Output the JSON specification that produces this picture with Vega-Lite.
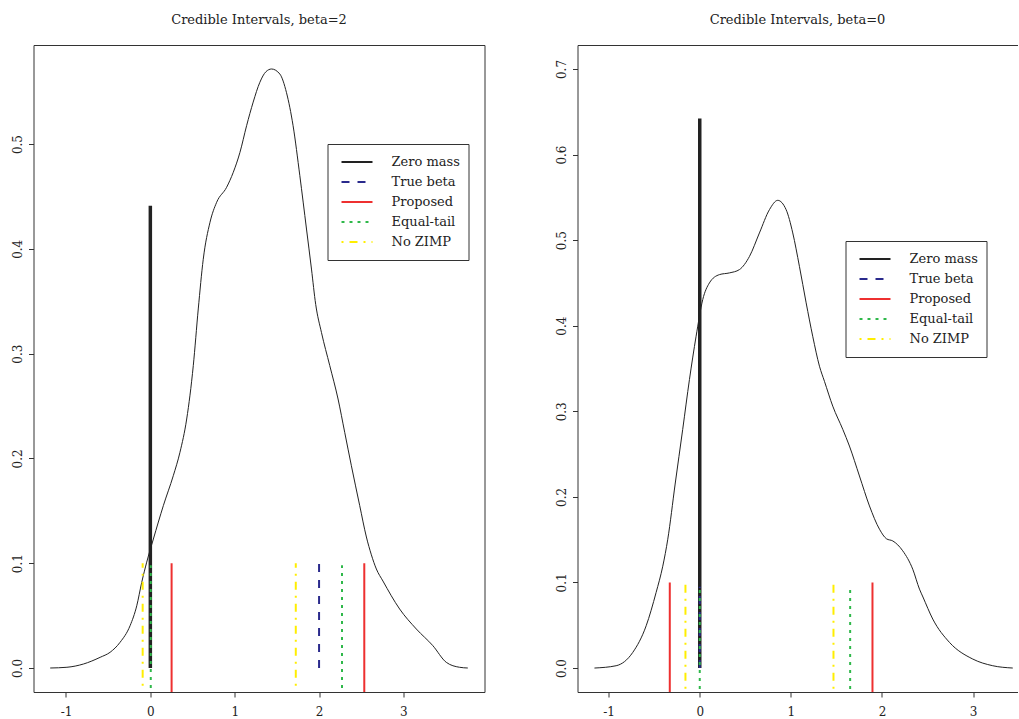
{
  "$schema": "https://vega.github.io/schema/vega-lite/v6.json",
  "padding": {"left": 10.5, "top": 13, "right": 0, "bottom": 0},
  "background": "white",
  "spacing": 93,
  "bounds": "flush",
  "datasets": {
    "dens1": [
      {"x": -1.187, "y": 0}, {"x": -0.989, "y": 0.0007}, {"x": -0.793, "y": 0.0038}, {"x": -0.595, "y": 0.0102},
      {"x": -0.477, "y": 0.015}, {"x": -0.359, "y": 0.0245}, {"x": -0.24, "y": 0.0404}, {"x": -0.161, "y": 0.0594},
      {"x": -0.102, "y": 0.0818}, {"x": -0.043, "y": 0.101}, {"x": 0.036, "y": 0.1231}, {"x": 0.154, "y": 0.1549},
      {"x": 0.272, "y": 0.1835}, {"x": 0.351, "y": 0.2058}, {"x": 0.431, "y": 0.2376}, {"x": 0.509, "y": 0.2885},
      {"x": 0.568, "y": 0.3426}, {"x": 0.627, "y": 0.39}, {"x": 0.707, "y": 0.4253}, {"x": 0.786, "y": 0.4444},
      {"x": 0.904, "y": 0.4587}, {"x": 0.983, "y": 0.473}, {"x": 1.062, "y": 0.492}, {"x": 1.141, "y": 0.5175},
      {"x": 1.219, "y": 0.54}, {"x": 1.298, "y": 0.5589}, {"x": 1.37, "y": 0.569}, {"x": 1.437, "y": 0.5716},
      {"x": 1.535, "y": 0.5668}, {"x": 1.614, "y": 0.549}, {"x": 1.692, "y": 0.5175}, {"x": 1.772, "y": 0.4698},
      {"x": 1.851, "y": 0.4189}, {"x": 1.91, "y": 0.3807}, {"x": 1.96, "y": 0.347}, {"x": 2.028, "y": 0.3203},
      {"x": 2.127, "y": 0.2885}, {"x": 2.225, "y": 0.2567}, {"x": 2.304, "y": 0.2249}, {"x": 2.383, "y": 0.193},
      {"x": 2.482, "y": 0.1549}, {"x": 2.561, "y": 0.125}, {"x": 2.62, "y": 0.108}, {"x": 2.679, "y": 0.0945},
      {"x": 2.757, "y": 0.083}, {"x": 2.955, "y": 0.0563}, {"x": 3.153, "y": 0.0372}, {"x": 3.349, "y": 0.0213},
      {"x": 3.508, "y": 0.0054}, {"x": 3.665, "y": 0.0007}, {"x": 3.763, "y": 0}
    ],
    "dens2": [
      {"x": -1.156, "y": 0}, {"x": -0.918, "y": 0.0027}, {"x": -0.735, "y": 0.0183}, {"x": -0.588, "y": 0.0494},
      {"x": -0.479, "y": 0.0883}, {"x": -0.406, "y": 0.119}, {"x": -0.351, "y": 0.1505}, {"x": -0.27, "y": 0.215},
      {"x": -0.187, "y": 0.2789}, {"x": -0.113, "y": 0.3372}, {"x": -0.04, "y": 0.3877}, {"x": 0.033, "y": 0.4306},
      {"x": 0.106, "y": 0.45}, {"x": 0.216, "y": 0.4597}, {"x": 0.326, "y": 0.4617}, {"x": 0.436, "y": 0.4656},
      {"x": 0.546, "y": 0.481}, {"x": 0.655, "y": 0.5084}, {"x": 0.765, "y": 0.5356}, {"x": 0.856, "y": 0.5465},
      {"x": 0.948, "y": 0.5356}, {"x": 1.021, "y": 0.5084}, {"x": 1.094, "y": 0.4694}, {"x": 1.168, "y": 0.4267},
      {"x": 1.24, "y": 0.3877}, {"x": 1.314, "y": 0.3527}, {"x": 1.369, "y": 0.335}, {"x": 1.46, "y": 0.306},
      {"x": 1.57, "y": 0.2789}, {"x": 1.643, "y": 0.2594}, {"x": 1.753, "y": 0.2244}, {"x": 1.863, "y": 0.1894},
      {"x": 1.973, "y": 0.1622}, {"x": 2.05, "y": 0.151}, {"x": 2.119, "y": 0.1485}, {"x": 2.228, "y": 0.137},
      {"x": 2.338, "y": 0.1155}, {"x": 2.412, "y": 0.0922}, {"x": 2.45, "y": 0.083}, {"x": 2.558, "y": 0.0572},
      {"x": 2.741, "y": 0.03}, {"x": 2.997, "y": 0.0105}, {"x": 3.216, "y": 0.0027}, {"x": 3.436, "y": 0}
    ],
    "seg1": [
      {"type": "Zero mass", "x": 0, "y0": 0, "y1": 0.441},
      {"type": "True beta", "x": 2, "y0": 0, "y1": 0.1},
      {"type": "Proposed", "x": 0.252, "y0": -0.05, "y1": 0.1},
      {"type": "Proposed", "x": 2.536, "y0": -0.05, "y1": 0.1},
      {"type": "Equal-tail", "x": 0.005, "y0": -0.019, "y1": 0.098},
      {"type": "Equal-tail", "x": 2.272, "y0": -0.019, "y1": 0.098},
      {"type": "No ZIMP", "x": -0.091, "y0": -0.017, "y1": 0.1},
      {"type": "No ZIMP", "x": 1.724, "y0": -0.017, "y1": 0.1}
    ],
    "seg2": [
      {"type": "Zero mass", "x": 0, "y0": 0, "y1": 0.642},
      {"type": "True beta", "x": 0, "y0": 0, "y1": 0.095},
      {"type": "Proposed", "x": -0.329, "y0": -0.05, "y1": 0.1},
      {"type": "Proposed", "x": 1.896, "y0": -0.05, "y1": 0.1},
      {"type": "Equal-tail", "x": 0, "y0": -0.0245, "y1": 0.093},
      {"type": "Equal-tail", "x": 1.651, "y0": -0.0245, "y1": 0.093},
      {"type": "No ZIMP", "x": -0.157, "y0": -0.05, "y1": 0.1},
      {"type": "No ZIMP", "x": 1.468, "y0": -0.05, "y1": 0.1}
    ]
  },
  "resolve": {
    "scale": {"color": "independent", "strokeDash": "independent", "x": "independent", "y": "independent"},
    "legend": {"color": "independent", "strokeDash": "independent"}
  },
  "hconcat": [
    {
      "width": 451,
      "height": 647,
      "title": {"text": "Credible Intervals, beta=2"},
      "layer": [
        {
          "data": {"name": "dens1"},
          "mark": {"type": "line", "color": "#222222", "strokeWidth": 1, "clip": true, "interpolate": "monotone"},
          "encoding": {
            "x": {"field": "x", "type": "quantitative", "scale": {"domain": [-1.385, 3.961], "nice": false, "zero": false},
                  "axis": {"values": [-1, 0, 1, 2, 3], "labelExpr": "datum.value < 0 ? '-' + (-datum.value) : '' + datum.value"}},
            "y": {"field": "y", "type": "quantitative", "scale": {"domain": [-0.0229, 0.5945], "nice": false, "zero": false},
                  "axis": {"values": [0, 0.1, 0.2, 0.3, 0.4, 0.5], "format": ".1f"}}
          }
        },
        {
          "mark": {"type": "rule", "color": "#bebebe", "strokeWidth": 1},
          "encoding": {"y": {"datum": 0}}
        },
        {
          "data": {"name": "seg1"},
          "transform": [{"filter": "datum.type === 'Zero mass'"}],
          "mark": {"type": "rule", "strokeWidth": 3.5, "clip": true},
          "encoding": {
            "x": {"field": "x", "type": "quantitative"},
            "y": {"field": "y0", "type": "quantitative"},
            "y2": {"field": "y1"},
            "color": {"field": "type", "type": "nominal",
              "scale": {"domain": ["Zero mass", "True beta", "Proposed", "Equal-tail", "No ZIMP"], "range": ["#222222", "#2a2a8c", "#ee3030", "#2fb84a", "#ffee00"]},
              "legend": {"title": null, "orient": "none", "legendX": 294, "legendY": 99}},
            "strokeDash": {"field": "type", "type": "nominal",
              "scale": {"domain": ["Zero mass", "True beta", "Proposed", "Equal-tail", "No ZIMP"], "range": [[1, 0], [8, 8], [1, 0], [3, 5], [2, 6, 8, 6]]},
              "legend": {"title": null, "orient": "none", "legendX": 294, "legendY": 99}}
          }
        },
        {
          "data": {"name": "seg1"},
          "transform": [{"filter": "datum.type !== 'Zero mass'"}],
          "mark": {"type": "rule", "strokeWidth": 2, "clip": true},
          "encoding": {
            "x": {"field": "x", "type": "quantitative"},
            "y": {"field": "y0", "type": "quantitative"},
            "y2": {"field": "y1"},
            "color": {"field": "type", "type": "nominal"},
            "strokeDash": {"field": "type", "type": "nominal"}
          }
        }
      ]
    },
    {
      "width": 440,
      "height": 647,
      "title": {"text": "Credible Intervals, beta=0"},
      "view": {"stroke": null},
      "resolve": {"axis": {"x": "independent"}},
      "layer": [
        {
          "data": {"name": "dens2"},
          "mark": {"type": "line", "color": "#222222", "strokeWidth": 1, "clip": true, "interpolate": "monotone"},
          "encoding": {
            "x": {"field": "x", "type": "quantitative", "scale": {"domain": [-1.342, 3.488], "nice": false, "zero": false},
                  "axis": {"orient": "bottom", "domain": true, "values": [-1, 0, 1, 2, 3], "labelExpr": "datum.value < 0 ? '-' + (-datum.value) : '' + datum.value"}},
            "y": {"field": "y", "type": "quantitative", "scale": {"domain": [-0.028, 0.728], "nice": false, "zero": false},
                  "axis": {"domain": true, "values": [0, 0.1, 0.2, 0.3, 0.4, 0.5, 0.6, 0.7], "format": ".1f"}}
          }
        },
        {
          "mark": {"type": "rule", "color": "#bebebe", "strokeWidth": 1},
          "encoding": {"y": {"datum": 0}}
        },
        {
          "data": {"name": "seg2"},
          "transform": [{"filter": "datum.type === 'Zero mass'"}],
          "mark": {"type": "rule", "strokeWidth": 3.5, "clip": true},
          "encoding": {
            "x": {"field": "x", "type": "quantitative", "axis": {"orient": "top", "domain": true, "ticks": false, "labels": false, "title": null}},
            "y": {"field": "y0", "type": "quantitative"},
            "y2": {"field": "y1"},
            "color": {"field": "type", "type": "nominal",
              "scale": {"domain": ["Zero mass", "True beta", "Proposed", "Equal-tail", "No ZIMP"], "range": ["#222222", "#2a2a8c", "#ee3030", "#2fb84a", "#ffee00"]},
              "legend": {"title": null, "orient": "none", "legendX": 268, "legendY": 196}},
            "strokeDash": {"field": "type", "type": "nominal",
              "scale": {"domain": ["Zero mass", "True beta", "Proposed", "Equal-tail", "No ZIMP"], "range": [[1, 0], [8, 8], [1, 0], [3, 5], [2, 6, 8, 6]]},
              "legend": {"title": null, "orient": "none", "legendX": 268, "legendY": 196}}
          }
        },
        {
          "data": {"name": "seg2"},
          "transform": [{"filter": "datum.type !== 'Zero mass'"}],
          "mark": {"type": "rule", "strokeWidth": 2, "clip": true},
          "encoding": {
            "x": {"field": "x", "type": "quantitative", "axis": {"orient": "top", "domain": true, "ticks": false, "labels": false, "title": null}},
            "y": {"field": "y0", "type": "quantitative"},
            "y2": {"field": "y1"},
            "color": {"field": "type", "type": "nominal"},
            "strokeDash": {"field": "type", "type": "nominal"}
          }
        }
      ]
    }
  ],
  "config": {
    "view": {"stroke": "#333333", "strokeWidth": 1},
    "font": "DejaVu Serif",
    "title": {"font": "DejaVu Serif", "fontSize": 13, "fontWeight": "normal", "color": "#222222", "offset": 18, "anchor": "middle"},
    "axis": {
      "title": null, "grid": false, "domain": false, "tickColor": "#333333", "tickSize": 5, "tickWidth": 1,
      "domainColor": "#333333", "domainWidth": 1,
      "labelFont": "DejaVu Serif", "labelFontSize": 12, "labelColor": "#222222"
    },
    "axisX": {"labelPadding": 9, "labelFlush": false},
    "axisY": {"labelAngle": -90, "labelAlign": "center", "labelBaseline": "alphabetic", "labelPadding": 7},
    "legend": {
      "symbolType": "stroke", "symbolSize": 961, "symbolStrokeWidth": 2, "labelFont": "DejaVu Serif", "labelFontSize": 13,
      "labelColor": "#222222", "labelOffset": 18, "padding": 8, "strokeColor": "#333333", "fillColor": "white",
      "clipHeight": 20, "rowPadding": 0, "symbolOffset": 5
    }
  }
}
